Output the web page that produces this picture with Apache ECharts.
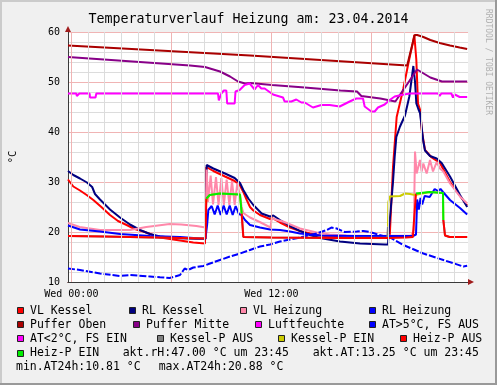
<!DOCTYPE html>
<html><head><meta charset="utf-8">
<script src="https://cdn.jsdelivr.net/npm/echarts@6/dist/echarts.min.js"></script>
<style>html,body{margin:0;padding:0;background:#f0f0f0}#c{width:497px;height:385px}</style>
</head><body><div id="c"></div><script>
// ---- axis ticks ----
const hoursMinor = [0,1,2,3,4,5,6,7,8,9,10,11,12,13,14,15,16,17,18,19,20,21,22,23];
const hoursMajor = [0,6,12,18];
const xTickValues = [0,12];
const xTickLabels = ['Wed 00:00','Wed 12:00'];
const titleText = 'Temperaturverlauf Heizung am: 23.04.2014';

// ---- data: [hour, °C] ----
const vlKessel = [[-0.2,30.5],[0.12,29.1],[0.52,28.3],[0.92,27.4],[1.32,26.4],[1.8,25.0],[2.32,23.4],[2.8,22.2],[3.32,21.4],[3.8,20.6],[4.32,20.1],[4.8,19.5],[5.32,18.9],[6.32,18.4],[7.32,17.9],[8.02,17.7],[8.1,33.0],[8.52,32.2],[9.22,31.1],[9.8,30.2],[10.12,29.3],[10.32,28.0],[10.54,26.3],[10.72,25.0],[10.92,24.3],[11.32,23.4],[11.92,22.6],[12.05,22.8],[12.52,21.9],[13.12,20.9],[13.72,20.2],[14.32,19.7],[14.92,19.3],[15.5,19.1],[16.7,18.9],[18.0,18.8],[19.1,18.8],[19.3,33.0],[19.52,43.0],[19.92,48.7],[20.22,53.7],[20.48,57.7],[20.58,59.4],[20.7,54.4],[20.8,45.7],[20.95,44.2],[21.02,40.4],[21.22,36.4],[21.62,34.9],[22.12,33.8],[22.72,30.0],[23.32,27.2],[23.75,25.3]];
const rlKessel = [[-0.2,32.2],[0.12,31.4],[0.52,30.7],[0.94,29.9],[1.25,29.0],[1.42,27.6],[1.72,26.5],[2.32,24.5],[2.92,22.9],[3.52,21.5],[4.12,20.4],[4.72,19.6],[5.32,19.1],[6.22,18.8],[7.72,18.6],[8.05,18.6],[8.12,33.4],[8.52,32.7],[9.22,31.7],[9.8,30.8],[10.12,29.8],[10.32,28.4],[10.62,26.7],[10.92,25.4],[11.42,23.7],[11.92,23.1],[12.12,23.3],[12.52,22.4],[13.12,21.2],[13.72,20.2],[14.32,19.4],[14.92,18.8],[16.12,18.1],[17.32,17.7],[18.82,17.5],[19.0,17.5],[19.05,20.5],[19.15,24.0],[19.3,30.0],[19.4,35.0],[19.5,39.0],[19.72,41.1],[20.02,43.3],[20.28,47.1],[20.52,53.2],[20.62,50.1],[20.7,45.7],[20.82,44.6],[20.92,43.8],[21.02,41.0],[21.12,38.1],[21.22,36.3],[21.52,35.2],[21.92,34.7],[22.22,33.8],[22.72,31.1],[23.32,27.4],[23.75,25.0]];
const vlHeizung = [[-0.2,21.8],[0.5,21.0],[1.72,20.4],[3.52,20.4],[4.5,21.0],[5.9,21.6],[6.6,21.5],[7.5,21.2],[8.05,20.9],[8.12,32.5],[8.2,26.0],[8.36,31.3],[8.5,25.5],[8.68,31.0],[8.83,25.4],[9.0,30.8],[9.15,25.4],[9.32,30.5],[9.48,25.4],[9.64,30.2],[9.8,25.4],[9.96,29.8],[10.1,27.5],[10.22,25.0],[10.32,23.8],[10.72,22.9],[11.3,22.0],[11.95,20.9],[12.02,22.7],[12.7,22.1],[13.72,20.7],[14.72,19.9],[15.5,19.5],[16.5,19.3],[18.0,19.2],[20.4,19.3],[20.55,20.4],[20.62,36.1],[20.72,31.7],[20.92,34.4],[21.02,32.1],[21.12,33.7],[21.32,31.7],[21.52,34.4],[21.7,32.1],[21.92,34.0],[22.12,32.7],[22.32,32.1],[22.72,29.7],[23.32,27.1],[23.75,25.7]];
const rlHeizung = [[-0.2,21.3],[0.52,20.5],[1.72,20.1],[2.92,19.6],[4.72,19.2],[6.52,19.0],[7.72,18.7],[8.05,18.7],[8.15,21.5],[8.22,24.4],[8.42,25.2],[8.6,23.5],[8.78,25.3],[8.96,23.4],[9.14,25.3],[9.32,23.5],[9.5,25.3],[9.68,23.4],[9.86,25.2],[10.05,23.6],[10.12,24.0],[10.22,23.4],[10.42,22.4],[10.72,21.4],[11.32,20.9],[11.92,20.5],[12.52,20.4],[13.12,20.1],[13.72,19.7],[14.32,19.5],[15.0,19.3],[17.0,19.2],[19.0,19.2],[20.5,19.2],[20.68,19.5],[20.75,26.5],[20.85,24.5],[20.95,26.8],[21.05,25.5],[21.2,27.2],[21.5,27.0],[21.8,28.6],[22.0,28.2],[22.15,28.6],[22.3,28.0],[22.72,26.4],[23.32,24.8],[23.75,23.5]];
const pufferOben = [[-0.2,57.3],[10.72,55.3],[20.15,53.3],[20.6,59.4],[20.75,59.4],[21.12,59.0],[21.54,58.4],[22.1,57.8],[22.72,57.3],[23.3,56.9],[23.75,56.6]];
const pufferMitte = [[-0.2,55.0],[7.12,53.3],[8.02,53.0],[8.92,52.1],[9.52,51.1],[10.0,50.1],[10.42,49.7],[10.74,49.8],[12.04,49.4],[14.0,48.9],[16.14,48.3],[17.14,48.1],[17.4,47.2],[18.54,46.7],[19.44,46.1],[20.02,48.9],[20.74,52.5],[21.54,50.9],[22.24,50.1],[23.75,50.1]];
const luftfeuchte = [[-0.2,47.7],[0.3,47.7],[0.33,47.2],[0.45,47.2],[0.48,47.7],[1.1,47.7],[1.12,46.9],[1.45,46.9],[1.5,47.7],[8.8,47.7],[8.85,46.3],[8.95,46.3],[9.0,47.7],[9.15,48.3],[9.3,48.3],[9.35,45.7],[9.8,45.7],[9.85,48.1],[10.1,48.4],[10.4,49.4],[10.7,49.7],[11.0,48.5],[11.2,49.4],[11.4,48.7],[11.6,48.7],[12.1,47.5],[12.7,46.9],[12.8,46.1],[13.2,46.1],[13.5,46.5],[13.8,45.9],[14.0,45.9],[14.5,44.9],[15.0,45.4],[15.5,45.4],[16.1,45.1],[16.7,46.1],[17.1,46.7],[17.5,46.7],[17.6,45.1],[18.0,44.1],[18.2,44.1],[18.4,44.9],[18.8,45.5],[19.1,46.4],[19.4,47.1],[19.8,47.4],[20.3,47.7],[22.0,47.7],[22.1,47.2],[22.2,47.7],[22.8,47.7],[22.9,46.9],[23.0,47.5],[23.3,47.0],[23.75,47.0]];
const atAussen = [[-0.2,12.7],[0.52,12.4],[1.72,11.7],[2.92,11.2],[3.52,11.4],[4.72,11.1],[5.32,10.95],[5.9,10.81],[6.22,11.1],[6.52,11.4],[6.8,12.7],[7.0,12.4],[7.32,12.9],[7.92,13.2],[8.32,13.7],[8.92,14.4],[9.52,15.1],[10.12,15.7],[10.72,16.4],[11.32,17.1],[11.92,17.5],[12.52,18.1],[13.12,18.5],[13.72,18.9],[14.32,19.4],[14.72,19.7],[15.32,20.4],[15.6,20.88],[15.92,20.7],[16.4,20.0],[17.12,20.1],[17.52,20.2],[17.9,20.0],[18.3,19.6],[18.82,19.1],[19.12,18.9],[19.92,17.4],[21.12,15.7],[22.32,14.4],[23.52,13.1],[23.75,13.25]];
const atKalt = [];
const kesselPAus = [[-0.2,19.2],[2,19.1],[5,18.9],[8.05,18.7],[8.06,null],[10.22,23.7],[10.32,19.0],[12,18.9],[16,18.8],[18.96,18.9],[19.0,21.1],[19.01,null],[22.32,22.4],[22.42,19.3],[22.7,19.0],[23.75,19.0]];
const kesselPEin = [[8.05,25.8],[8.15,26.7],[8.3,27.4],[8.92,27.7],[9.5,27.6],[10.12,27.5],[10.2,27.4],[10.22,23.7],[10.23,null],[19.0,21.1],[19.02,25.9],[19.1,27.1],[19.72,27.2],[20.02,27.7],[20.32,27.6],[20.62,27.4],[20.7,27.8],[21.5,28.0],[22.3,27.8],[22.32,22.4]];
const heizPAus = [[-0.2,19.2],[2,19.1],[5,18.9],[8.05,18.7],[8.1,26.7],[8.11,null],[10.22,23.7],[10.32,19.0],[12,18.9],[16,18.8],[19,18.8],[20.1,18.9],[20.5,19.0],[20.52,20.4],[20.64,20.4],[20.68,27.7],[20.69,null],[22.32,22.4],[22.42,19.3],[22.7,19.0],[23.75,19.0]];
const heizPEin = [[8.1,26.7],[8.3,27.4],[8.92,27.7],[9.5,27.6],[10.12,27.5],[10.2,27.4],[10.22,23.7],[10.23,null],[20.68,27.7],[20.75,28.1],[21.5,28.0],[22.3,27.8],[22.32,22.4]];

// ---- legend ----
const legendNames = ['VL Kessel','RL Kessel','VL Heizung','RL Heizung','Puffer Oben','Puffer Mitte','Luftfeuchte','AT>5°C, FS AUS','AT<2°C, FS EIN','Kessel-P AUS','Kessel-P EIN','Heiz-P AUS','Heiz-P EIN'];
const legendColors = ['#ff0000','#000080','#ff88aa','#0000ff','#aa0000','#880088','#ff00ff','#0000ff','#ff00ff','#808080','#cccc00','#ff0000','#00ee00'];
const seriesData = [vlKessel,rlKessel,vlHeizung,rlHeizung,pufferOben,pufferMitte,luftfeuchte,atAussen,atKalt,kesselPAus,kesselPEin,heizPAus,heizPEin];

// layout (positions only)
const legendBoxX = [17,129,240,369, 17,133,255,369, 17,157,278,400, 17];
const legendRow  = [0,0,0,0, 1,1,1,1, 2,2,2,2, 3];
const rowY = i => 310.7 + 14.1*i;

const FONT = '"DejaVu Sans Mono", monospace';
const lastVal = a => a[a.length-1][1];
const atVals = atAussen.map(p=>p[1]);
const statTexts = [
  {text:'akt.rH:' + lastVal(luftfeuchte).toFixed(2) + ' °C um 23:45', x:122.7, row:3},
  {text:'akt.AT:' + lastVal(atAussen).toFixed(2) + ' °C um 23:45', x:312.7, row:3},
  {text:'min.AT24h:' + Math.min(...atVals).toFixed(2) + ' °C', x:16, row:4},
  {text:'max.AT24h:' + Math.max(...atVals).toFixed(2) + ' °C', x:158.7, row:4}
];

const graphic = [
  {type:'rect', shape:{x:0,y:0,width:497,height:2}, style:{fill:'#cbcbcb'}},
  {type:'rect', shape:{x:0,y:0,width:2,height:385}, style:{fill:'#cbcbcb'}},
  {type:'rect', shape:{x:0,y:383,width:497,height:2}, style:{fill:'#999999'}},
  {type:'rect', shape:{x:495,y:0,width:2,height:385}, style:{fill:'#999999'}},
  {type:'text', x:488, y:62, rotation:-Math.PI/2, style:{text:'RRDTOOL / TOBI OETIKER', font:'8px '+FONT, fill:'#b0b0b0', align:'center', verticalAlign:'middle'}},
  {type:'text', x:13.5, y:157, rotation:Math.PI/2, style:{text:'°C', font:'10.5px '+FONT, fill:'#000', align:'center', verticalAlign:'middle'}}
];
legendNames.forEach((n,i)=>{
  const y = rowY(legendRow[i]);
  graphic.push({type:'rect', shape:{x:legendBoxX[i]+0.5, y:Math.round(y-3.5)+0.5, width:6, height:6}, style:{fill:legendColors[i], stroke:'#222', lineWidth:1}});
  graphic.push({type:'text', x:legendBoxX[i]+13, y:y, style:{text:n, font:'11.5px '+FONT, fill:'#000', align:'left', verticalAlign:'middle'}});
});
statTexts.forEach(s=>{
  graphic.push({type:'text', x:s.x, y:rowY(s.row), style:{text:s.text, font:'11.5px '+FONT, fill:'#000', align:'left', verticalAlign:'middle'}});
});

const series = [
  {type:'line', data:[], silent:true, animation:false, markLine:{silent:true, animation:false, symbol:['none','none'], label:{show:false}, lineStyle:{color:'#dcdcdc', width:1, type:'solid'}, data:hoursMinor.map(h=>({xAxis:h}))}},
  {type:'line', data:[], silent:true, animation:false, markLine:{silent:true, animation:false, symbol:['none','none'], label:{show:false}, lineStyle:{color:'#f0b4b4', width:1, type:'solid'}, data:hoursMajor.map(h=>({xAxis:h}))}}
];
legendNames.forEach((n,i)=>{
  series.push({
    name:n, type:'line', data:seriesData[i], showSymbol:false, symbol:'none', connectNulls:false,
    animation:false, silent:true, clip:true,
    lineStyle:{color:legendColors[i], width:2, type: i===7 ? [7,2] : 'solid'},
    itemStyle:{color:legendColors[i]}
  });
});

const chart = echarts.init(document.getElementById('c'), null, {renderer:'canvas', width:497, height:385});
chart.setOption({
  animation:false,
  backgroundColor:'#f0f0f0',
  title:{text:titleText, left:'center', top:8, textStyle:{fontFamily:FONT, fontSize:13.3, fontWeight:'normal', color:'#000'}},
  grid:{left:68, top:32, width:400, height:250, show:true, backgroundColor:'#ffffff', borderWidth:0},
  xAxis:[
    {type:'value', min:-0.2, max:23.8, position:'bottom',
     axisLine:{show:true, onZero:false, lineStyle:{color:'#a01c1c', width:1}, symbol:['none','triangle'], symbolSize:[6,6], symbolOffset:[0,3]},
     axisTick:{show:false}, splitLine:{show:false}, axisLabel:{show:false}},
    {type:'value', min:-0.2, max:23.8, position:'bottom',
     axisLine:{show:true, onZero:false, lineStyle:{color:'#3a3a3a', width:1}},
     axisTick:{show:false}, splitLine:{show:false},
     axisLabel:{show:true, customValues:xTickValues, formatter:v=>{const k=xTickValues.indexOf(v); return k>=0?xTickLabels[k]:'';}, margin:7, fontFamily:FONT, fontSize:10, color:'#000'}}
  ],
  yAxis:[
    {type:'value', min:10, max:60, interval:2,
     axisLine:{show:true, onZero:false, lineStyle:{color:'#a01c1c', width:1}, symbol:['none','triangle'], symbolSize:[6,6], symbolOffset:[0,3]},
     axisTick:{show:false}, axisLabel:{show:false}, splitLine:{show:true, lineStyle:{color:'#dcdcdc', width:1}}},
    {type:'value', min:10, max:60, interval:10, position:'left',
     axisLine:{show:true, onZero:false, lineStyle:{color:'#3a3a3a', width:1}},
     axisTick:{show:false}, axisLabel:{show:true, margin:8, fontFamily:FONT, fontSize:10, color:'#000'},
     splitLine:{show:true, lineStyle:{color:'#f0b4b4', width:1}}}
  ],
  graphic: graphic,
  series: series
});
</script></body></html>
